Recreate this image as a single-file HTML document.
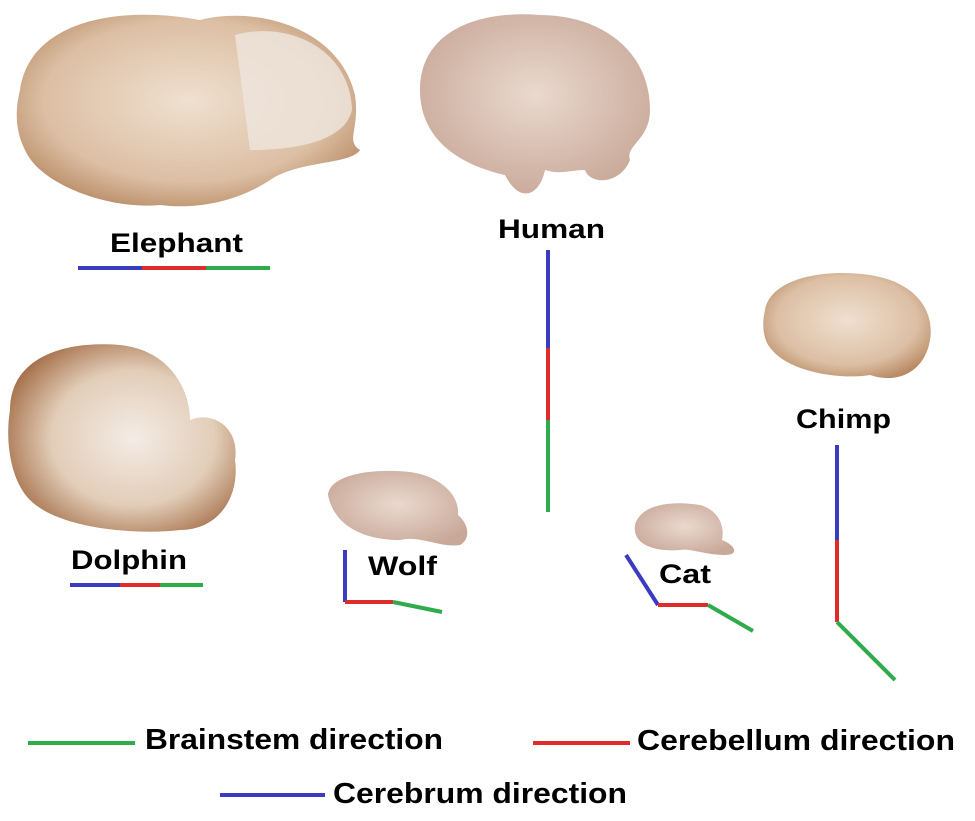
<!DOCTYPE html>
<html><head><meta charset="utf-8"><style>
body{margin:0;background:#fff;}
svg{display:block}
text{font-family:"Liberation Sans",Arial,sans-serif;font-weight:bold;fill:#000}
</style></head><body>
<svg width="975" height="821" viewBox="0 0 975 821" xmlns="http://www.w3.org/2000/svg">
<defs>
<radialGradient id="b" cx="50%" cy="45%" r="60%"><stop offset="0" stop-color="#efe0d0"/><stop offset="0.7" stop-color="#dcbfa4"/><stop offset="1" stop-color="#b98c66"/></radialGradient>
<radialGradient id="h" cx="50%" cy="45%" r="60%"><stop offset="0" stop-color="#ead9cf"/><stop offset="1" stop-color="#c8a898"/></radialGradient>
<radialGradient id="d" cx="55%" cy="50%" r="60%"><stop offset="0" stop-color="#f3ece6"/><stop offset="0.6" stop-color="#e2cdb8"/><stop offset="1" stop-color="#a5704a"/></radialGradient>
</defs>
<path d="M20,90 C30,20 120,5 200,20 C260,5 340,30 355,95 C360,130 345,140 360,150 C350,165 300,160 270,180 C240,200 200,210 160,205 C110,210 40,185 25,150 C15,130 15,110 20,90Z" fill="url(#b)"/>
<path d="M235,35 C290,20 350,50 352,110 C345,140 300,150 250,150 Z" fill="#efe6df" opacity="0.8"/>
<path d="M420,90 C420,30 480,10 540,15 C600,15 650,50 650,110 C650,140 625,145 630,160 C620,185 590,185 585,170 C570,170 560,175 545,170 C540,195 520,205 505,175 C460,165 420,140 420,90Z" fill="url(#h)"/>
<path d="M765,310 C770,280 820,268 870,275 C915,282 935,310 930,340 C925,370 900,385 870,375 C840,380 790,372 772,350 C762,340 762,322 765,310Z" fill="url(#b)"/>
<path d="M10,410 C10,360 60,340 120,345 C170,350 190,390 190,420 C215,410 240,430 235,460 C240,495 220,530 180,530 C140,535 60,530 30,500 C10,480 5,440 10,410Z" fill="url(#d)"/>
<path d="M328,495 C330,475 370,468 410,472 C440,476 460,495 458,515 C470,525 470,540 460,545 C440,548 420,535 400,540 C370,540 335,530 328,495Z" fill="url(#h)"/>
<path d="M635,525 C640,505 670,500 700,505 C718,510 725,525 722,540 C735,545 740,555 725,555 C705,555 690,548 680,550 C655,552 632,545 635,525Z" fill="url(#h)"/>

<g font-size="27" lengthAdjust="spacingAndGlyphs">
<text x="110" y="252" textLength="133" lengthAdjust="spacingAndGlyphs">Elephant</text>
<text x="498" y="238" textLength="107" lengthAdjust="spacingAndGlyphs">Human</text>
<text x="796" y="428" textLength="95" lengthAdjust="spacingAndGlyphs">Chimp</text>
<text x="71" y="569" textLength="116" lengthAdjust="spacingAndGlyphs">Dolphin</text>
<text x="368" y="575" textLength="69" lengthAdjust="spacingAndGlyphs">Wolf</text>
<text x="659" y="583" textLength="52" lengthAdjust="spacingAndGlyphs">Cat</text>
</g>
<g font-size="29">
<text x="145" y="749" textLength="298" lengthAdjust="spacingAndGlyphs">Brainstem direction</text>
<text x="637" y="750" textLength="318" lengthAdjust="spacingAndGlyphs">Cerebellum direction</text>
<text x="333" y="803" textLength="294" lengthAdjust="spacingAndGlyphs">Cerebrum direction</text>
</g>
<g stroke-width="4" fill="none">
<line x1="78" y1="268" x2="142" y2="268" stroke="#3b3bc0"/>
<line x1="142" y1="268" x2="206" y2="268" stroke="#e02b2b"/>
<line x1="206" y1="268" x2="270" y2="268" stroke="#2eab4a"/>
<line x1="548" y1="250" x2="548" y2="348" stroke="#3b3bc0"/>
<line x1="548" y1="348" x2="548" y2="420" stroke="#e02b2b"/>
<line x1="548" y1="420" x2="548" y2="512" stroke="#2eab4a"/>
<line x1="70" y1="585" x2="120" y2="585" stroke="#3b3bc0"/>
<line x1="120" y1="585" x2="160" y2="585" stroke="#e02b2b"/>
<line x1="160" y1="585" x2="203" y2="585" stroke="#2eab4a"/>
<line x1="345" y1="550" x2="345" y2="602" stroke="#3b3bc0"/>
<line x1="345" y1="602" x2="393" y2="602" stroke="#e02b2b"/>
<line x1="393" y1="602" x2="442" y2="612" stroke="#2eab4a"/>
<line x1="626" y1="555" x2="658" y2="605" stroke="#3b3bc0"/>
<line x1="658" y1="605" x2="708" y2="605" stroke="#e02b2b"/>
<line x1="708" y1="605" x2="753" y2="631" stroke="#2eab4a"/>
<line x1="837" y1="445" x2="837" y2="540" stroke="#3b3bc0"/>
<line x1="837" y1="540" x2="837" y2="622" stroke="#e02b2b"/>
<line x1="837" y1="622" x2="895" y2="680" stroke="#2eab4a"/>
<line x1="28" y1="743" x2="135" y2="743" stroke="#2eab4a"/>
<line x1="533" y1="743" x2="630" y2="743" stroke="#e02b2b"/>
<line x1="220" y1="795" x2="325" y2="795" stroke="#3b3bc0"/>
</g>
</svg>
</body></html>
